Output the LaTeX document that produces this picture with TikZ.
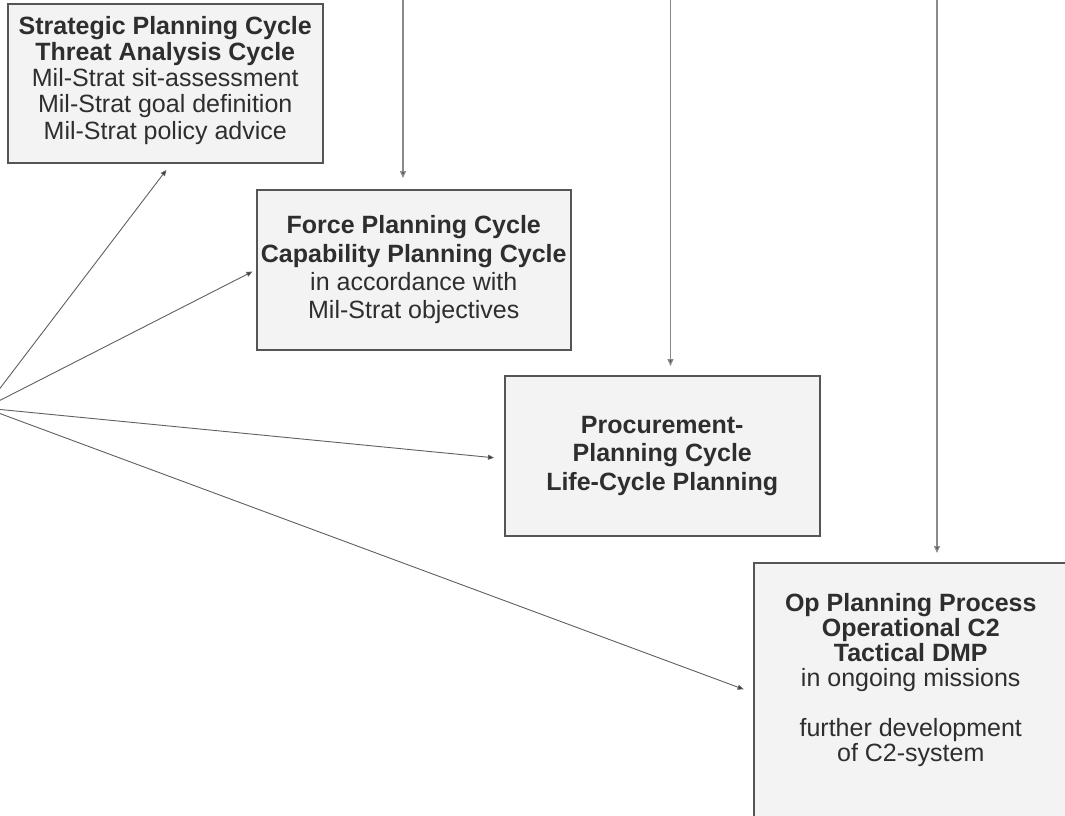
\documentclass[tikz,border=0pt]{standalone}
\usepackage{fontspec}
\setmainfont{Liberation Sans}
\usetikzlibrary{arrows.meta,calc}
\definecolor{boxfill}{HTML}{F3F3F3}
\definecolor{boxline}{HTML}{555555}
\definecolor{txt}{HTML}{2E2E2E}
\definecolor{fanline}{HTML}{606060}
\definecolor{vline}{HTML}{8A8A8A}
\tikzset{
  box/.style={draw=boxline, line width=1.5pt, fill=boxfill, anchor=north west,
    inner sep=2pt, align=center, text=txt},
  fan/.style={draw=fanline, line width=0.9pt,
    -{Triangle[length=6pt,width=5pt,fill=txt]}},
  vdrop/.style={draw=vline, line width=1.4pt,
    -{Triangle[length=7pt,width=6pt,fill=txt]}},
  fA/.style={font=\fontsize{25}{26.2}\selectfont},
  fB/.style={font=\fontsize{25}{28.3}\selectfont},
  fC/.style={font=\fontsize{25}{25}\selectfont},
}
\begin{document}
\begin{tikzpicture}[x=1pt,y=-1pt]
\useasboundingbox (0,0) rectangle (1065,815);
\fill[white] (0,0) rectangle (1065,815);

\node[box, fA, minimum width=315pt, minimum height=159pt] (b1) at (7,3) {};
\node[fA, align=center, text=txt, inner sep=0pt] (b1t) at ([yshift=3pt]b1.center)
  {\textbf{Strategic Planning Cycle}\\ \textbf{Threat Analysis Cycle}\\
   Mil-Strat sit-assessment\\ Mil-Strat goal definition\\ Mil-Strat policy advice};

\node[box, fB, minimum width=314pt, minimum height=160pt] (b2) at (256,189)
  {\textbf{Force Planning Cycle}\\ \textbf{Capability Planning Cycle}\\
   in accordance with\\ Mil-Strat objectives};

\node[box, fB, minimum width=315pt, minimum height=160pt] (b3) at (504,375)
  {\textbf{Procurement-}\\ \textbf{Planning Cycle}\\ \textbf{Life-Cycle Planning}};

\node[box, minimum width=314pt, minimum height=260pt] (b4) at (753,562) {};
\node[fC, align=center, text=txt, anchor=north, inner sep=0pt] (b4t) at ([yshift=-31pt]b4.north)
  {\textbf{Op Planning Process}\\ \textbf{Operational C2}\\ \textbf{Tactical DMP}\\
   in ongoing missions\\ \\ further development\\ of C2-system};

\coordinate (o) at (-15,408);
\coordinate (t1) at (403,-5);
\coordinate (t2) at (670.5,-5);
\coordinate (t3) at (937,-5);

\draw[fan, shorten >=8pt] (o) -- ([xshift=6pt]b1.south);
\draw[fan, shorten >=4pt] (o) -- (b2.west);
\draw[fan, shorten >=10pt] (o) -- ([yshift=-3pt]b3.west);
\draw[fan, shorten >=10pt] (o) -- (b4.west);

\draw[vdrop, shorten >=11pt] (t1) -- (t1 |- b2.north);
\draw[vdrop, shorten >=9pt] (t2) -- (t2 |- b3.north);
\draw[vdrop, shorten >=9pt] (t3) -- (t3 |- b4.north);
\end{tikzpicture}
\end{document}
